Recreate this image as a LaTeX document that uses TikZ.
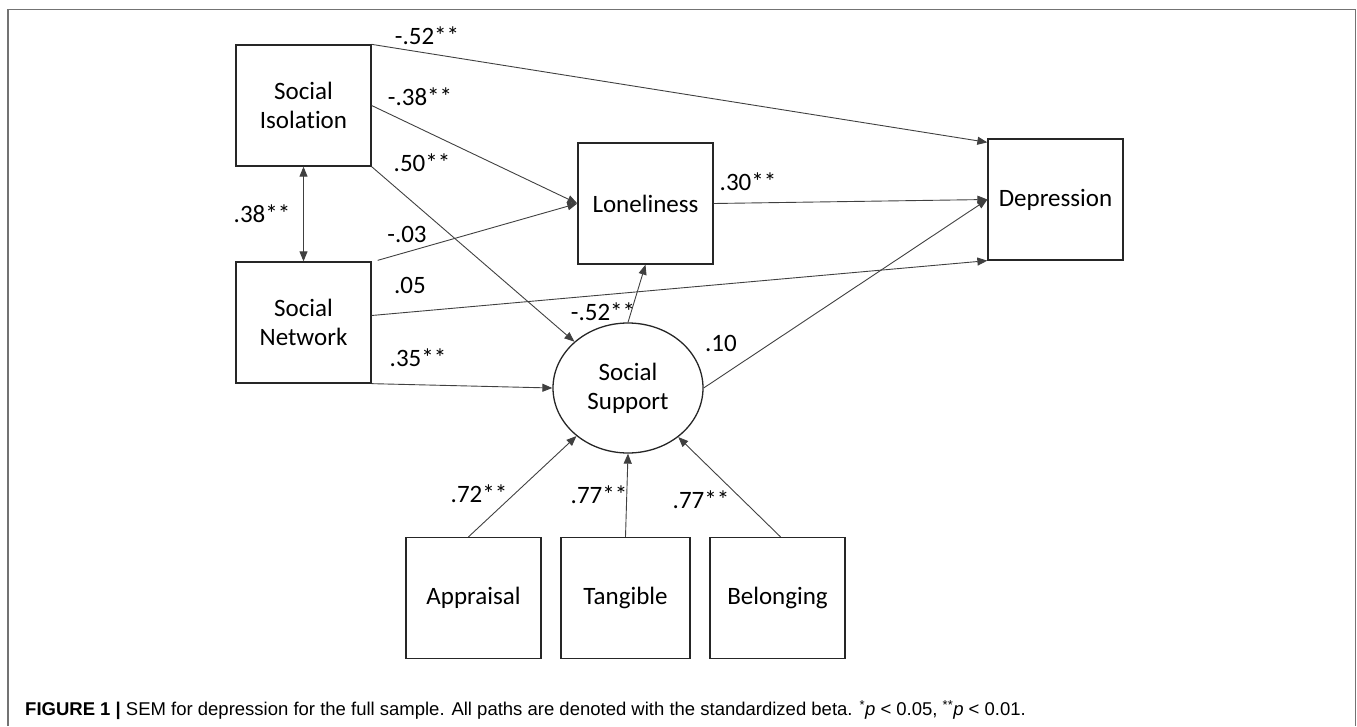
\documentclass[tikz,border=0pt]{standalone}
\usepackage{fontspec}
\setmainfont{Carlito}[Ligatures=NoCommon]
\newfontfamily\capfont{Liberation Sans}
\usetikzlibrary{arrows.meta}
\usetikzlibrary{shapes.geometric}
\tikzset{obs/.style={draw=black!85,line width=1.3pt,minimum width=135pt,minimum height=121pt,inner sep=0pt,align=center,font=\fontsize{25}{29}\selectfont},
 latent/.style={ellipse,draw=black!85,line width=1.3pt,minimum width=150pt,minimum height=130pt,inner sep=0pt,align=center,font=\fontsize{25}{29}\selectfont},
 effect/.style={draw=black!75,line width=0.9pt,-{Triangle[length=10pt,width=8pt]}},
 covar/.style={draw=black!75,line width=0.9pt,{Triangle[length=10pt,width=8pt]}-{Triangle[length=10pt,width=8pt]}},
 coef/.style={inner sep=0pt,font=\fontsize{25}{29}\selectfont},
 }

\begin{document}
\begin{tikzpicture}[x=1pt,y=-1pt]
        \useasboundingbox (0,0) rectangle (1357,726);
        \draw[black!55,line width=1.5pt] (8,726) -- (8,9.5) -- (1355.5,9.5) -- (1355.5,726);
        % variables
        \node[obs] (iso) at (303.5,105.5) {Social\\Isolation};
        \node[obs] (net) at (303.5,322.5) {Social\\Network};
        \node[obs] (lone) at (645.5,203.5) {Loneliness};
        \node[obs] (dep) at (1055.5,199.5) {Depression};
        \node[latent] (sup) at (628,388) {Social\\Support};
        \node[obs] (appr) at (473.5,598) {Appraisal};
        \node[obs,minimum width=129pt] (tang) at (625.5,598) {Tangible};
        \node[obs] (bel) at (777.5,598) {Belonging};
        % paths
        \draw[effect] (iso.north east) -- ([yshift=-4pt]dep.north west);
        \draw[effect] (iso.east) -- (lone.west);
        \draw[effect] (iso.south east) -- (sup);
        \draw[covar] (iso.south) -- (net.north);
        \draw[effect] ([xshift=6pt,yshift=1pt]net.north east) -- (lone.west);
        \draw[effect] ([yshift=7pt]net.east) -- (dep.south west);
        \draw[effect] (net.south east) -- (sup.west);
        \draw[effect] (sup.north) -- (lone.south);
        \draw[effect] (sup.east) -- (dep.west);
        \draw[effect] (lone.east) -- (dep.west);
        \draw[effect] ([xshift=-5pt]appr.north) -- (sup);
        \draw[effect] (tang.north) -- (sup.south);
        \draw[effect] ([xshift=3pt]bel.north) -- (sup);
        % coefficients
        \node[coef] (b1) at (427,36) {-.52**};
        \node[coef] (b2) at (420,97) {-.38**};
        \node[coef] (b3) at (422,163) {.50**};
        \node[coef] (r1) at (262,214) {.38**};
        \node[coef] (b4) at (407,234) {-.03};
        \node[coef] (b5) at (410,285) {.05};
        \node[coef] (b6) at (418,358) {.35**};
        \node[coef] (b7) at (603,312) {-.52**};
        \node[coef] (b8) at (721,343) {.10};
        \node[coef] (b9) at (748,182) {.30**};
        \node[coef] (l1) at (479,494) {.72**};
        \node[coef] (l2) at (599,495) {.77**};
        \node[coef] (l3) at (701,500) {.77**};
        % caption
        \node[anchor=west,inner sep=0pt,font=\capfont\fontsize{18.5}{20}\selectfont] (cap) at (25,710)
            {\textbf{FIGURE 1 |} SEM for depression for the full sample. All paths are denoted with the standardized beta. \textsuperscript{*}\textit{p} < 0.05, \textsuperscript{**}\textit{p} < 0.01.};
    \end{tikzpicture}
\end{document}
